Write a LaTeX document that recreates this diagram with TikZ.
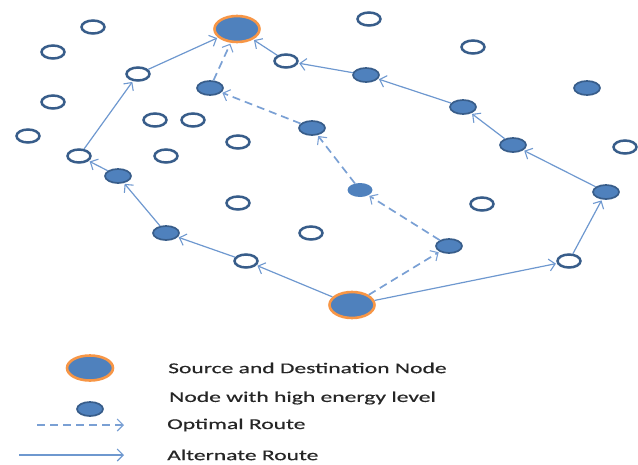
\documentclass[tikz,border=0pt]{standalone}
\usepackage{fontspec}
\setmainfont{Carlito}
\usetikzlibrary{shapes.geometric,arrows.meta}
\definecolor{nodefill}{HTML}{4F81BD}
\definecolor{nodeline}{HTML}{385D8A}
\definecolor{edgeblue}{HTML}{6E98CF}
\definecolor{dashblue}{HTML}{7AA0D4}
\definecolor{ringorange}{HTML}{F79646}
\definecolor{legendtext}{HTML}{262626}
\tikzset{
  plain/.style={ellipse, draw=nodeline, fill=white, line width=2.5pt,
    minimum width=23pt, minimum height=13pt, inner sep=0pt},
  energy/.style={ellipse, draw=nodeline, fill=nodefill, line width=1.7pt,
    minimum width=26pt, minimum height=14pt, inner sep=0pt},
  lightenergy/.style={ellipse, fill=nodefill, draw=none,
    minimum width=25pt, minimum height=14pt, inner sep=0pt},
  endpoint/.style={ellipse, draw=ringorange, fill=nodefill, line width=2.6pt,
    minimum width=45pt, minimum height=26pt, inner sep=0pt},
  tip/.style={-{Straight Barb[length=6pt,width=12pt,line width=1.1pt]}},
  altroute/.style={tip, draw=edgeblue, line width=1.2pt, shorten >=1pt},
  optroute/.style={tip, draw=dashblue, line width=1.7pt, dash pattern=on 8pt off 5pt,
    shorten >=1pt},
  legendlabel/.style={anchor=west, inner sep=0pt, text=legendtext,
    font=\fontsize{15}{17}\selectfont\addfontfeature{FakeBold=0.4}}
}
\newcommand{\widetext}[1]{\scalebox{1.57}[1]{#1}}
\begin{document}
\begin{tikzpicture}[x=1pt,y=-1pt]
\useasboundingbox (0,0) rectangle (638,464);

% ordinary nodes
\node[plain] (p1)  at (93,27)  {};
\node[plain] (p2)  at (53,52)  {};
\node[plain] (p3)  at (53,102) {};
\node[plain] (p4)  at (28,136) {};
\node[plain] (p5)  at (138,74) {};
\node[plain] (p6)  at (155,120) {};
\node[plain] (p7)  at (193,120) {};
\node[plain] (p8)  at (238,142) {};
\node[plain] (p9)  at (79,156) {};
\node[plain] (p10) at (166,156) {};
\node[plain] (p11) at (286,61) {};
\node[plain] (p12) at (369,19) {};
\node[plain] (p13) at (473,47) {};
\node[plain] (p14) at (625,147) {};
\node[plain] (p15) at (238,203) {};
\node[plain] (p16) at (311,233) {};
\node[plain] (p17) at (482,204) {};
\node[plain] (p18) at (246,261) {};
\node[plain] (p19) at (569,261) {};

% nodes with high energy level
\node[energy] (e1)  at (210,88)  {};
\node[energy] (e2)  at (312,128) {};
\node[energy] (e3)  at (366,75)  {};
\node[energy] (e4)  at (463,107) {};
\node[energy] (e5)  at (587,88)  {};
\node[energy] (e6)  at (513,145) {};
\node[energy] (e7)  at (606,192) {};
\node[energy] (e8)  at (118,176) {};
\node[energy] (e9)  at (166,233) {};
\node[energy] (e10) at (449,246) {};
\node[lightenergy] (e11) at (360,190) {};

% source and destination
\node[endpoint] (dst) at (237,29)  {};
\node[endpoint] (src) at (352,305) {};

% alternate routes
\draw[altroute] (src) -- (p18);
\draw[altroute] (p18) -- (e9);
\draw[altroute] (e9) -- (e8);
\draw[altroute] (e8) -- (p9);
\draw[altroute] (p9) -- (p5);
\draw[altroute] (p5) -- (dst);
\draw[altroute] (src) -- (p19);
\draw[altroute] (p19) -- (e7);
\draw[altroute] (e7) -- (e6);
\draw[altroute] (e6) -- (e4);
\draw[altroute] (e4) -- (e3);
\draw[altroute] (e3) -- (p11);
\draw[altroute] (p11) -- (dst);

% optimal route
\draw[optroute] (src) -- (e10);
\draw[optroute] (e10) -- (e11);
\draw[optroute] (e11) -- (e2);
\draw[optroute] (e2) -- (e1);
\draw[optroute] (e1) -- (dst);

% legend
\node[endpoint, minimum width=46pt, minimum height=25pt] (lsd) at (90,368) {};
\node[energy] (lhe) at (90,409) {};
\coordinate (lo1) at (37,425);
\coordinate (lo2) at (124,425);
\coordinate (la1) at (19,455);
\coordinate (la2) at (124,455);
\draw[optroute, shorten >=0pt] (lo1) -- (lo2);
\draw[altroute, shorten >=0pt] (la1) -- (la2);
\node[legendlabel] (t1) at (168,368) {\widetext{Source and Destination Node}};
\node[legendlabel] (t2) at (169,398) {\widetext{Node with high energy level}};
\node[legendlabel] (t3) at (167,425) {\widetext{Optimal Route}};
\node[legendlabel] (t4) at (167,455) {\widetext{Alternate Route}};
\end{tikzpicture}
\end{document}
